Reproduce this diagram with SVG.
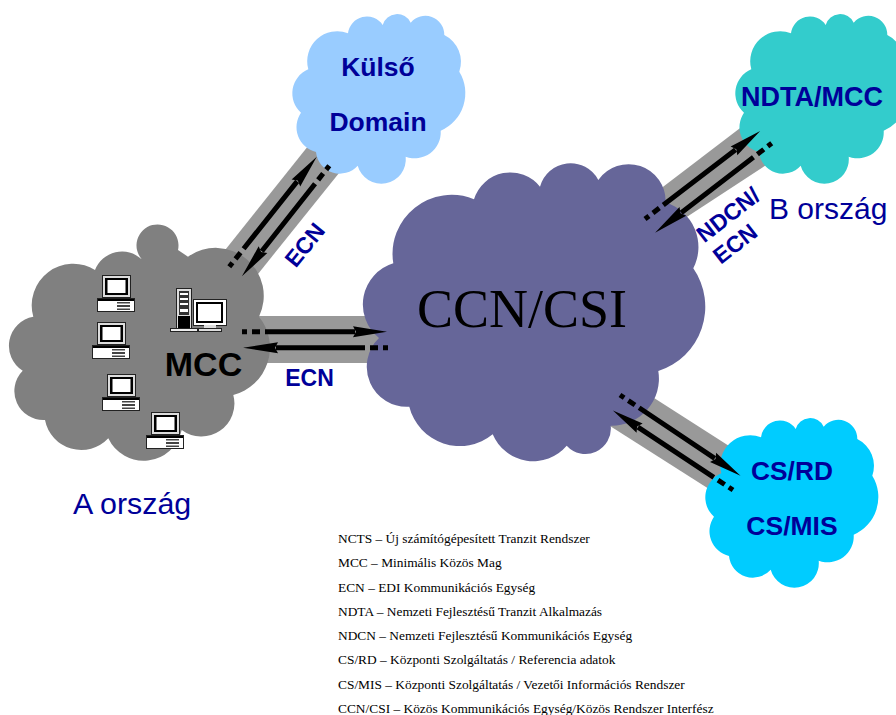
<svg xmlns="http://www.w3.org/2000/svg" width="896" height="715" viewBox="0 0 896 715">
<style>
text{font-family:"Liberation Sans",Arial,sans-serif}
.b{font-weight:bold;fill:#000099;text-anchor:middle}
.s{font-family:"Liberation Serif","Times New Roman",serif;font-size:13.4px;fill:#000}
.band{fill:#999999}
.sh{stroke:#000;stroke-width:5;fill:none}
.hd{fill:#000}
.pw{fill:#fff;stroke:#222;stroke-width:1}
.k{fill:#000}
</style>
<defs>
<path id="cloud" d="M308.300 69.300A30 30 0 0 1 348 33.300A19 19 0 0 1 382.700 25A15 15 0 0 1 410.700 22.700A19 19 0 0 1 444.300 35A30 30 0 0 1 459.300 71.700A41 41 0 0 1 440.700 130.700A26 26 0 0 1 405.700 156.700A24.500 24.500 0 0 1 357.700 165.700A24 24 0 0 1 316 152A25.500 25.500 0 0 1 301 112.700A26 26 0 0 1 308.300 69.300Z"/>
<g id="pc">
<rect x="0.500" y="0.500" width="28" height="22" fill="#ddd" stroke="#222"/>
<rect x="3" y="3" width="23" height="17" fill="#000"/>
<rect x="5.500" y="5" width="18" height="13" fill="#fff"/>
<rect x="-4.500" y="23.500" width="37" height="13" class="pw"/>
<rect x="-4" y="24" width="36" height="2" class="k"/>
<rect x="15" y="27" width="13" height="1.500" fill="#444"/><rect x="15" y="30" width="13" height="2" fill="#444"/><rect x="15" y="33.500" width="13" height="1.500" fill="#444"/>
</g>
</defs>
<g id="connectors-bands">
<polygon class="band" points="217.400,259.700 314.300,138.300 349.300,160.300 243.700,291.700"/>
<polygon class="band" points="649.700,197 752,119 780,156 676,224"/>
<polygon class="band" points="640,389 740,453 720,496 599,419"/>
<rect class="band" x="250" y="316" width="140" height="47"/>
</g>
<g id="node-mcc">
<path fill="#808080" d="M33.300 316.700A41.500 41.500 0 0 1 95 270A29 29 0 0 1 141.700 259.300A21 21 0 1 1 178 250L188 256.700A48 48 0 0 1 259 316.700A49 49 0 0 1 233.300 395A33 33 0 0 1 181.700 430A39 39 0 0 1 108.300 438.300A37 37 0 0 1 45 420A29 29 0 0 1 22.700 370.700A29.500 29.500 0 0 1 33.300 316.700Z"/>
<use href="#pc" x="102" y="275"/><use href="#pc" x="97" y="322"/><use href="#pc" x="107" y="374"/><use href="#pc" x="151" y="412"/>
<rect x="176.500" y="288.500" width="15" height="40" fill="#ddd" stroke="#222"/>
<rect x="179" y="291" width="10" height="24" fill="#333"/><rect x="180" y="293" width="8" height="2" fill="#fff"/><rect x="180" y="298" width="8" height="2" fill="#fff"/><rect x="180" y="303" width="8" height="2" fill="#fff"/><rect x="180" y="309" width="8" height="3" fill="#fff"/>
<rect x="178" y="316" width="12" height="12" fill="#000"/>
<rect x="170.500" y="328.500" width="27" height="3" fill="#eee" stroke="#222"/>
<rect x="193.500" y="299.500" width="33" height="26" fill="#fff" stroke="#222"/>
<rect x="196" y="302" width="27" height="21" fill="#000"/><rect x="198" y="304" width="23" height="17" fill="#fff"/>
<rect x="198.500" y="328.500" width="23" height="3" fill="#ddd" stroke="#222"/><rect x="204" y="325" width="12" height="3" fill="#ddd"/>
<text x="203.500" y="376" font-size="34" font-weight="bold" text-anchor="middle" fill="#000">MCC</text>
</g>
<g id="node-kulso">
<use href="#cloud" fill="#99ccff"/>
<text class="b" x="378" y="76" font-size="26.500">Külső</text>
<text class="b" x="378" y="130.500" font-size="26.500">Domain</text>
</g>
<g id="node-ndta">
<use href="#cloud" x="443" fill="#33cccc"/>
<text class="b" x="812" y="106" font-size="27">NDTA/MCC</text>
</g>
<g id="node-cs">
<use href="#cloud" x="413" y="404" fill="#00ccff"/>
<text class="b" x="792" y="480" font-size="26.300">CS/RD</text>
<text class="b" x="792" y="535" font-size="26.500">CS/MIS</text>
</g>
<g id="node-ccn">
<path fill="#666699" d="M393.300 263.300A59 59 0 0 1 474 199.300A38 38 0 0 1 540 186.700A31.500 31.500 0 0 1 598.300 180A37 37 0 0 1 665.600 202.500A46.600 46.600 0 0 1 693.300 268.300A67.500 67.500 0 0 1 658.300 371A47 47 0 0 1 610.700 425.700A25.400 25.400 0 0 1 566.700 445.700A44 44 0 0 1 492.700 434.300A52 52 0 0 1 409.300 406.700A40 40 0 0 1 379 338A43 43 0 0 1 393.300 263.300Z"/>
<text x="522" y="327" font-size="54" text-anchor="middle" style="font-family:'Liberation Serif','Times New Roman',serif" fill="#000">CCN/CSI</text>
</g>
<g id="connectors">
<g id="a1"><line class="sh" x1="242" y1="331.700" x2="355" y2="331.700" stroke-dasharray="5 5 8 5 200"/><polygon class="hd" points="353,326.200 387,331.700 353,337.200 356,331.700"/></g>
<g id="a2"><line class="sh" x1="388" y1="347.700" x2="276" y2="347.700" stroke-dasharray="5 5 8 5 200"/><polygon class="hd" points="278,342.200 243,347.700 278,353.200 275,347.700"/></g>
<g id="a3" transform="translate(229.300 266.700) rotate(-51.500)"><line class="sh" x1="0" y1="0" x2="109" y2="0" stroke-dasharray="5 5 8 5 200"/><polygon class="hd" points="107,-5.500 140.500,0 107,5.500 110,0"/></g>
<g id="a4" transform="translate(329.300 165.700) rotate(128.300)"><line class="sh" x1="0" y1="0" x2="109" y2="0" stroke-dasharray="5 5 8 5 200"/><polygon class="hd" points="107,-5.500 141,0 107,5.500 110,0"/></g>
<g id="a5" transform="translate(645 219) rotate(-37.400)"><line class="sh" x1="0" y1="0" x2="114" y2="0" stroke-dasharray="5 5 8 5 200"/><polygon class="hd" points="112,-5.500 145,0 112,5.500 115,0"/></g>
<g id="a6" transform="translate(771.700 143.300) rotate(142.500)"><line class="sh" x1="0" y1="0" x2="114" y2="0" stroke-dasharray="5 5 8 5 200"/><polygon class="hd" points="112,-5.500 147,0 112,5.500 115,0"/></g>
<g id="a7" transform="translate(620 395) rotate(33.800)"><line class="sh" x1="0" y1="0" x2="114" y2="0" stroke-dasharray="5 5 8 5 200"/><polygon class="hd" points="112,-5.500 145,0 112,5.500 115,0"/></g>
<g id="a8" transform="translate(733 490) rotate(-146.500)"><line class="sh" x1="0" y1="0" x2="114" y2="0" stroke-dasharray="5 5 8 5 200"/><polygon class="hd" points="112,-5.500 144,0 112,5.500 115,0"/></g>
</g>
<g id="labels">
<text class="b" x="309.500" y="386" font-size="23">ECN</text>
<text class="b" font-size="23" transform="translate(311 250) rotate(-51)">ECN</text>
<text class="b" font-size="23" transform="translate(733 221) rotate(-38)">NDCN/</text>
<text class="b" font-size="23" transform="translate(740 250) rotate(-38)">ECN</text>
<text x="769" y="219" font-size="30" fill="#000099">B ország</text>
<text x="73" y="514" font-size="30.400" fill="#000099">A ország</text>
</g>
<g id="legend">
<text class="s" x="338" y="542.500">NCTS – Új számítógépesített Tranzit Rendszer</text>
<text class="s" x="338" y="567">MCC – Minimális Közös Mag</text>
<text class="s" x="338" y="592">ECN – EDI Kommunikációs Egység</text>
<text class="s" x="338" y="616">NDTA – Nemzeti Fejlesztésű Tranzit Alkalmazás</text>
<text class="s" x="338" y="640">NDCN – Nemzeti Fejlesztésű Kommunikációs Egység</text>
<text class="s" x="338" y="664">CS/RD – Központi Szolgáltatás / Referencia adatok</text>
<text class="s" x="338" y="689">CS/MIS – Központi Szolgáltatás / Vezetői Információs Rendszer</text>
<text class="s" x="338" y="713">CCN/CSI – Közös Kommunikációs Egység/Közös Rendszer Interfész</text>
</g>
</svg>
